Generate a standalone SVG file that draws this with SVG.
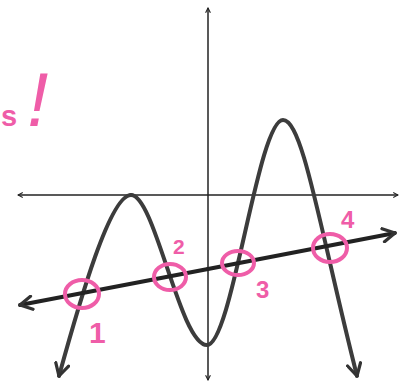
<svg xmlns="http://www.w3.org/2000/svg" width="409" height="385" viewBox="0 0 409 385">
<defs>
<style>
.axis{stroke:#222;stroke-width:1.5;fill:none}
.curve{stroke:#3c3c3c;stroke-width:4;fill:none;stroke-linecap:round;stroke-linejoin:round}
.line{stroke:#222;stroke-width:4;fill:none;stroke-linecap:round}
.ring{stroke:#ef5da8;stroke-width:4;fill:none}
.lbl{fill:#ef5da8;font-family:"Liberation Sans",Arial,sans-serif;font-weight:bold}
</style>
<marker id="axArr" viewBox="0 0 10 10" refX="9" refY="5" markerWidth="6" markerHeight="6" markerUnits="userSpaceOnUse" orient="auto">
<path d="M1 1 L9 5 L1 9" fill="none" stroke="#222" stroke-width="1.8"/>
</marker>
<marker id="bigArr" viewBox="0 0 12 12" refX="11" refY="6" markerWidth="16" markerHeight="16" markerUnits="userSpaceOnUse" orient="auto">
<path d="M2 1 L11 6 L2 11" fill="none" stroke="#333" stroke-width="2.4" stroke-linecap="round" stroke-linejoin="round"/>
</marker>
</defs>
<rect width="409" height="385" fill="#fff"/>
<g id="connectors">
<line id="x-axis" class="axis" x1="208" y1="195" x2="18" y2="195" marker-end="url(#axArr)"/>
<line class="axis" x1="208" y1="195" x2="398" y2="195" marker-end="url(#axArr)"/>
<line id="y-axis" class="axis" x1="208" y1="195" x2="208" y2="8" marker-end="url(#axArr)"/>
<line class="axis" x1="208" y1="195" x2="208" y2="380" marker-end="url(#axArr)"/>
<path id="curve" class="curve" d="M131 195 C155 195,180 345,207 345 C232 345,258 120,283 120 C303 120,320 230,357 376" marker-end="url(#bigArr)"/>
<path class="curve" d="M131 195 C110 195,80 300,59 376" marker-end="url(#bigArr)"/>
<line id="secant" class="line" x1="208" y1="269" x2="395" y2="233" marker-end="url(#bigArr)"/>
<line class="line" x1="208" y1="269" x2="20" y2="305" marker-end="url(#bigArr)"/>
</g>
<g id="p1"><ellipse class="ring" cx="82" cy="294" rx="17" ry="14"/><text class="lbl" x="89" y="343" font-size="30">1</text></g>
<g id="p2"><ellipse class="ring" cx="170" cy="277" rx="16" ry="13"/><text class="lbl" x="173" y="254" font-size="21">2</text></g>
<g id="p3"><ellipse class="ring" cx="238" cy="263" rx="16" ry="12"/><text class="lbl" x="256" y="298" font-size="24">3</text></g>
<g id="p4"><ellipse class="ring" cx="330" cy="248" rx="17" ry="14"/><text class="lbl" x="341" y="228" font-size="24">4</text></g>
<g id="title"><text class="lbl" x="1" y="126" font-size="29">s<tspan dx="10" font-size="76" font-style="italic" font-weight="normal">!</tspan></text></g>
</svg>
